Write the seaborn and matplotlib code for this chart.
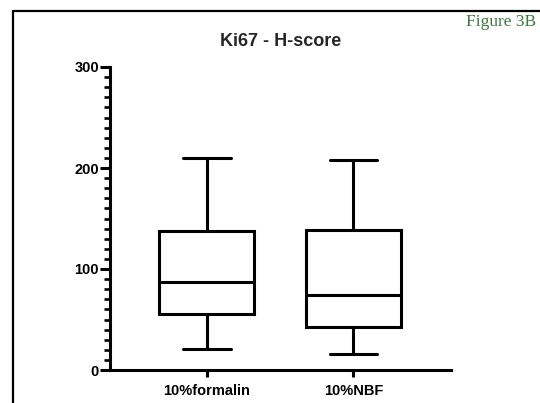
import numpy as np
import pandas as pd
import matplotlib
matplotlib.use("Agg")
import matplotlib.pyplot as plt
from matplotlib.lines import Line2D
from matplotlib.ticker import MultipleLocator
import seaborn as sns

# Box summary values (min, Q1, median, Q3, max)
categories = ["10%formalin", "10%NBF"]
formalin_stats = [20.5, 55.5, 87, 138, 210]
nbf_stats = [16, 43, 74.5, 138.5, 208]
y_ticks = [0, 100, 200, 300]
title = "Ki67 - H-score"
figure_label = "Figure 3B"

df = pd.DataFrame({
    "group": [categories[0]] * len(formalin_stats) + [categories[1]] * len(nbf_stats),
    "value": formalin_stats + nbf_stats,
})

sns.set_style("ticks")
plt.rcParams["font.family"] = ["Liberation Sans", "DejaVu Sans"]

fig = plt.figure(figsize=(5.4, 4.03), dpi=100)
ax = fig.add_axes([110 / 540, 1 - 370 / 403, 341 / 540, 303 / 403])

lw = 2.2
sns.boxplot(data=df, x="group", y="value", order=categories, ax=ax,
            whis=(0, 100), width=0.65, color="white", linecolor="black",
            linewidth=lw, fliersize=0)

ax.set_ylim(0, 300)
ax.set_xlim(-0.66, 1.666)
ax.set_yticks(y_ticks)
ax.yaxis.set_minor_locator(MultipleLocator(10))
ax.set_xlabel("")
ax.set_ylabel("")
for s in ["top", "right"]:
    ax.spines[s].set_visible(False)
for s in ["left", "bottom"]:
    ax.spines[s].set_linewidth(lw)
    ax.spines[s].set_color("black")
ax.tick_params(axis="y", which="major", length=7, width=lw, pad=1, labelsize=10.5, colors="black")
ax.tick_params(axis="y", which="minor", length=4, width=1.9, colors="black")
ax.tick_params(axis="x", which="major", length=5, width=lw, pad=5, labelsize=10.5, colors="black")
for lab in ax.get_xticklabels() + ax.get_yticklabels():
    lab.set_fontweight("bold")

ax.set_title(title, fontsize=13, fontweight="bold", pad=15)

fig.text(501 / 540, 1 - 22.5 / 403, figure_label, ha="center", va="center",
         fontsize=12.5, family="Liberation Serif", color="#3c7a3c")

# outer frame (left and top edges)
fig.add_artist(Line2D([13 / 540, 13 / 540], [0, 1 - 11 / 403], transform=fig.transFigure,
                      color="black", linewidth=1.6))
fig.add_artist(Line2D([13 / 540, 1], [1 - 11 / 403, 1 - 11 / 403], transform=fig.transFigure,
                      color="black", linewidth=1.6))

fig.savefig("out.png", dpi=100, facecolor="white")
